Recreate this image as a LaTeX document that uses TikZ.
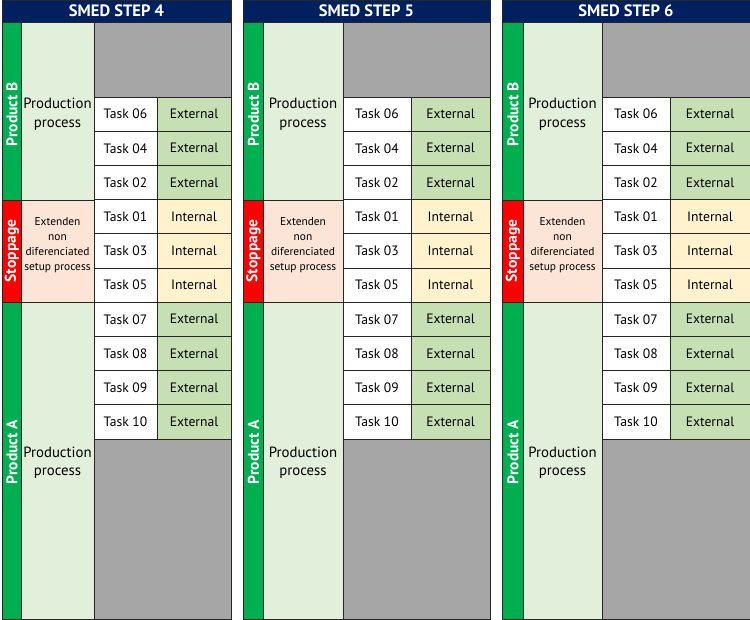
\documentclass[tikz,border=0pt]{standalone}
\usepackage{fontspec}
\setmainfont{PT Sans}
\usetikzlibrary{positioning}
\definecolor{headblue}{HTML}{002060}
\definecolor{prodgreen}{HTML}{00B050}
\definecolor{stopred}{HTML}{FF0000}
\definecolor{procgreen}{HTML}{E2EFDA}
\definecolor{setuppeach}{HTML}{FCE4D6}
\definecolor{extgreen}{HTML}{C6E0B4}
\definecolor{intyellow}{HTML}{FFF2CC}
\definecolor{idlegray}{HTML}{A6A6A6}
\definecolor{cellline}{HTML}{262626}
\tikzset{
  cell/.style={draw=cellline, line width=0.8pt, rectangle, inner sep=0pt},
  headbar/.style={cell, fill=headblue, text=white, font=\fontsize{16.5}{18}\selectfont\bfseries},
  sidelabel/.style={text=white, rotate=90, inner sep=0pt, font=\fontsize{15.5}{17}\selectfont\bfseries},
  tasktext/.style={font=\fontsize{13.6}{15}\selectfont},
  ext/.style={cell, fill=extgreen, tasktext},
  int/.style={cell, fill=intyellow, tasktext}
}
\begin{document}
\begin{tikzpicture}[x=1pt,y=-1pt]
  \useasboundingbox (0,0) rectangle (750,619);
  % one panel per SMED step
  \foreach \s/\xa/\xb/\xc/\xd/\xe in {4/2/21/94/157/231, 5/243/263/343/411/490, 6/502/523/602/670/750}
  {
    \pgfmathsetmacro\wall{\xe-\xa}
    \pgfmathsetmacro\wside{\xb-\xa}
    \pgfmathsetmacro\wproc{\xc-\xb}
    \pgfmathsetmacro\wtask{\xd-\xc}
    \pgfmathsetmacro\wstat{\xe-\xd}
    \pgfmathsetmacro\wright{\xe-\xc}
    \node[headbar, minimum width=\wall pt, minimum height=22pt] (head\s) at ({(\xa+\xe)/2},11) {SMED STEP \s};

    % side columns
    \node[cell, fill=prodgreen, minimum width=\wside pt, minimum height=178pt] (prodB\s) at ({(\xa+\xb)/2},111) {};
    \node[cell, fill=stopred, minimum width=\wside pt, minimum height=102pt] (stop\s) at ({(\xa+\xb)/2},251) {};
    \node[cell, fill=prodgreen, minimum width=\wside pt, minimum height=317pt] (prodA\s) at ({(\xa+\xb)/2},460.5) {};
    \node[sidelabel] (labB\s) at ({(\xa+\xb)/2+0.5},114) {Product B};
    \node[sidelabel] (labS\s) at ({(\xa+\xb)/2+0.5},251) {Stoppage};
    \node[sidelabel] (labA\s) at ({(\xa+\xb)/2+0.5},452) {Product A};

    % process columns
    \node[cell, fill=procgreen, minimum width=\wproc pt, minimum height=178pt] (procB\s) at ({(\xb+\xc)/2},111) {};
    \node[cell, fill=setuppeach, minimum width=\wproc pt, minimum height=102pt] (setup\s) at ({(\xb+\xc)/2},251) {};
    \node[cell, fill=procgreen, minimum width=\wproc pt, minimum height=317pt] (procA\s) at ({(\xb+\xc)/2},460.5) {};
    \node[align=center, font=\fontsize{14.8}{18.5}\selectfont] (txtB\s) at (procB\s.center) [yshift=-3pt] {Production\\process};
    \node[align=center, font=\fontsize{11.4}{15}\selectfont] (txtS\s) at (setup\s.center) [yshift=6pt] {Extenden\\non\\diferenciated\\setup process};
    \node[align=center, font=\fontsize{14.8}{18.5}\selectfont] (txtA\s) at (procA\s.center) [yshift=-2pt] {Production\\process};

    % idle time
    \node[cell, fill=idlegray, minimum width=\wright pt, minimum height=75pt] (idleB\s) at ({(\xc+\xe)/2},59.5) {};
    \node[cell, fill=idlegray, minimum width=\wright pt, minimum height=180pt] (idleA\s) at ({(\xc+\xe)/2},529) {};

    % tasks
    \foreach \t/\k/\n [count=\i from 0] in {06/ext/External, 04/ext/External, 02/ext/External, 01/int/Internal, 03/int/Internal, 05/int/Internal, 07/ext/External, 08/ext/External, 09/ext/External, 10/ext/External}
    {
      \node[cell, fill=white, tasktext, minimum width=\wtask pt, minimum height=34.2pt] (task\s-\t) at ({(\xc+\xd)/2},{114.1+34.2*\i}) {Task \t};
      \node[\k, minimum width=\wstat pt, minimum height=34.2pt] (stat\s-\t) at ({(\xd+\xe)/2},{114.1+34.2*\i}) {\n};
    }
  }
\end{tikzpicture}
\end{document}
